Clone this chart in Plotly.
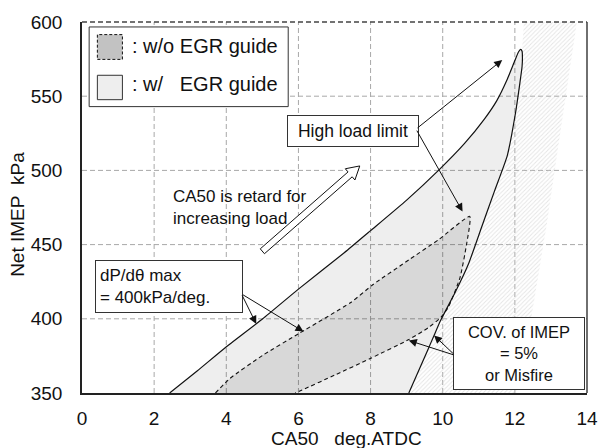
import numpy as np
import plotly.graph_objects as go

# ---- data -------------------------------------------------------------
# Operating region with EGR guide (solid outline): upper-left edge up to the tip,
# then back down along the right edge
with_egr_upper_x = [2.43, 3.2, 3.97, 5.01, 6.0, 7.27, 8.0, 9.0, 9.89, 10.6, 11.16, 11.5, 11.79, 12.0, 12.1, 12.16]
with_egr_upper_y = [350, 365, 380.5, 400, 420, 444.5, 459.4, 480, 500.2, 518, 534.7, 547, 561.4, 574, 579.8, 581.6]
with_egr_lower_x = [12.2, 12.21, 12.2, 12.14, 12.02, 11.79, 11.43, 11.07, 10.71, 10.35, 9.94, 9.76, 9.58, 9.06]
with_egr_lower_y = [580.3, 576, 570, 559, 539, 510, 485.7, 461.2, 436.7, 418, 398.8, 388.8, 378.7, 350]

# Operating region without EGR guide (dashed outline)
without_egr_upper_x = [3.70, 4.1, 5.01, 6.0, 7.45, 8.08, 9.08, 9.89, 10.75]
without_egr_upper_y = [350, 359.8, 375.4, 389.9, 411, 423.3, 440, 453.4, 469]
without_egr_lower_x = [10.66, 10.48, 10.16, 9.95, 9.6, 9.06, 7.99, 7.0, 6.1, 5.91]
without_egr_lower_y = [450, 427.8, 408, 401, 394, 386, 373.2, 362, 352, 350]

# Right-hand limit of the hatched band
hatch_right_x = [13.72, 13.25, 12.88, 12.45, 12.05]
hatch_right_y = [600, 524, 463, 400, 350]
hatch_top_left = (12.25, 600)

x_ticks = [0, 2, 4, 6, 8, 10, 12, 14]
y_ticks = [350, 400, 450, 500, 550, 600]
X_RANGE = (0, 14)
Y_RANGE = (350, 600)

# ---- layout constants ------------------------------------------------
W, H = 610, 448
M = dict(l=82, r=12, t=19, b=55)
PLOT_W = W - M["l"] - M["r"]
PLOT_H = H - M["t"] - M["b"]
FONT = "Liberation Sans, Arial, sans-serif"
BLACK = "#111111"
GRID = "#a8a8a8"


def paper_x(px):
    return (px - M["l"]) / PLOT_W


def paper_y(py):
    return (H - M["b"] - py) / PLOT_H


def hollow_arrow(x0, y0, x1, y1, shaft=6.5, head_w=15.0, head_len=13.0):
    """Outline of a block arrow, built in screen units and mapped back to data."""
    sx = PLOT_W / (X_RANGE[1] - X_RANGE[0])
    sy = PLOT_H / (Y_RANGE[1] - Y_RANGE[0])
    p0 = np.array([x0 * sx, y0 * sy])
    p1 = np.array([x1 * sx, y1 * sy])
    d = p1 - p0
    u = d / np.linalg.norm(d)
    n = np.array([-u[1], u[0]])
    b = p1 - u * head_len
    pts = [p0 + n * shaft / 2, b + n * shaft / 2, b + n * head_w / 2, p1,
           b - n * head_w / 2, b - n * shaft / 2, p0 - n * shaft / 2, p0 + n * shaft / 2]
    return [p[0] / sx for p in pts], [p[1] / sy for p in pts]


fig = go.Figure()

# hatched band right of the w/ EGR region
hx = list(reversed(with_egr_lower_x)) + [hatch_top_left[0]] + hatch_right_x
hy = list(reversed(with_egr_lower_y)) + [hatch_top_left[1]] + hatch_right_y
fig.add_trace(go.Scatter(
    x=hx, y=hy, mode="lines", fill="toself", line=dict(width=0),
    fillcolor="rgba(0,0,0,0)",
    fillpattern=dict(shape="/", fgcolor="#c9c9c9", bgcolor="rgba(0,0,0,0)", size=3, solidity=0.3),
    hoverinfo="skip", showlegend=False))

# w/ EGR guide region
fig.add_trace(go.Scatter(
    x=with_egr_upper_x + with_egr_lower_x, y=with_egr_upper_y + with_egr_lower_y,
    mode="lines", fill="toself", fillcolor="rgba(0,0,0,0.065)",
    line=dict(color=BLACK, width=1.2, shape="spline", smoothing=0.5),
    hoverinfo="skip", showlegend=False))

# w/o EGR guide region
fig.add_trace(go.Scatter(
    x=without_egr_upper_x + without_egr_lower_x, y=without_egr_upper_y + without_egr_lower_y,
    mode="lines", fill="toself", fillcolor="rgba(0,0,0,0.09)",
    line=dict(color=BLACK, width=1.1, dash="4px,3px", shape="spline", smoothing=0.5),
    hoverinfo="skip", showlegend=False))

# block arrow: CA50 retards with load
ax_, ay_ = hollow_arrow(5.0, 445.5, 7.70, 503)
fig.add_trace(go.Scatter(x=ax_, y=ay_, mode="lines", fill="toself", fillcolor="white",
                         line=dict(color=BLACK, width=1), hoverinfo="skip", showlegend=False))

annotations = []


def pointer(x0, y0, x1, y1):
    annotations.append(dict(
        x=x1, y=y1, ax=x0, ay=y0, xref="x", yref="y", axref="x", ayref="y",
        text="", showarrow=True, arrowhead=2, arrowsize=1.6, arrowwidth=1,
        arrowcolor=BLACK, standoff=0, startstandoff=0))


# High load limit
annotations.append(dict(
    x=7.52, y=526.6, xref="x", yref="y", text="High load limit", showarrow=False,
    font=dict(family=FONT, size=17.5, color=BLACK), bgcolor="white",
    bordercolor="#333333", borderwidth=1, borderpad=3, width=124, height=24))
pointer(9.26, 527.8, 11.65, 574.4)
pointer(9.26, 527.8, 10.55, 472.3)

# dP/dtheta max
annotations.append(dict(
    x=2.425, y=421.9, xref="x", yref="y",
    text="dP/d\u03b8 max<br>= 400kPa/deg.", showarrow=False, align="left",
    font=dict(family=FONT, size=17, color=BLACK), bgcolor="white",
    bordercolor="#333333", borderwidth=1, borderpad=4, width=138, height=43))
pointer(4.42, 416.8, 4.83, 396.6)
pointer(4.42, 416.8, 6.14, 391.4)

# COV of IMEP
annotations.append(dict(
    x=12.12, y=376.7, xref="x", yref="y",
    text="COV. of IMEP<br>= 5%<br>or Misfire", showarrow=False, align="center",
    font=dict(family=FONT, size=16.5, color=BLACK), bgcolor="white",
    bordercolor="#333333", borderwidth=1, borderpad=3, width=124, height=65))
pointer(10.34, 375.4, 9.06, 385.4)
pointer(10.34, 375.4, 9.76, 388.8)

# retard note
annotations.append(dict(
    x=2.47, y=475.3, xref="x", yref="y", xanchor="left", yanchor="middle",
    text="CA50 is retard for<br>increasing load", showarrow=False, align="left",
    font=dict(family=FONT, size=17, color=BLACK)))

# axis titles
annotations.append(dict(
    x=paper_x(352), y=paper_y(439), xref="paper", yref="paper",
    xanchor="center", yanchor="middle",
    text="CA50\u00a0\u00a0\u00a0deg.ATDC", showarrow=False,
    font=dict(family=FONT, size=19, color=BLACK)))
annotations.append(dict(
    x=paper_x(16), y=paper_y(213), xref="paper", yref="paper", textangle=-90,
    xanchor="center", yanchor="middle",
    text="Net IMEP\u00a0\u00a0kPa", showarrow=False,
    font=dict(family=FONT, size=19, color=BLACK)))

# legend entries
annotations.append(dict(
    x=paper_x(131), y=paper_y(43), xref="paper", yref="paper", xanchor="left", yanchor="middle",
    text=": w/o EGR guide", showarrow=False, font=dict(family=FONT, size=20, color=BLACK)))
annotations.append(dict(
    x=paper_x(131), y=paper_y(82), xref="paper", yref="paper", xanchor="left", yanchor="middle",
    text=": w/\u00a0\u00a0\u00a0EGR guide", showarrow=False, font=dict(family=FONT, size=20, color=BLACK)))

shapes = []
# dashed grid under the data
for v in x_ticks[1:-1]:
    shapes.append(dict(type="line", xref="x", yref="paper", x0=v, x1=v, y0=0, y1=1,
                       layer="below", line=dict(color=GRID, width=1, dash="5px,3px")))
for v in y_ticks[1:-1]:
    shapes.append(dict(type="line", xref="paper", yref="y", x0=0, x1=1, y0=v, y1=v,
                       layer="below", line=dict(color=GRID, width=1, dash="5px,3px")))
shapes += [
    # frame: right solid, top dashed
    dict(type="line", xref="paper", yref="paper", x0=1, x1=1, y0=0, y1=1,
         line=dict(color="#222222", width=1.3)),
    dict(type="line", xref="paper", yref="paper", x0=0, x1=1, y0=1, y1=1,
         line=dict(color="#444444", width=1.3, dash="5px,3px")),
    # legend box and swatches
    dict(type="rect", xref="paper", yref="paper", x0=paper_x(89.3), x1=paper_x(292.7),
         y0=paper_y(104.3), y1=paper_y(24), fillcolor="white", line=dict(color="#333333", width=1)),
    dict(type="rect", xref="paper", yref="paper", x0=paper_x(97.7), x1=paper_x(123.3),
         y0=paper_y(56.7), y1=paper_y(31.7), fillcolor="#c2c2c2",
         line=dict(color=BLACK, width=1, dash="3px,2px")),
    dict(type="rect", xref="paper", yref="paper", x0=paper_x(97.7), x1=paper_x(123.3),
         y0=paper_y(97.3), y1=paper_y(72.7), fillcolor="#eeeeee",
         line=dict(color="#333333", width=1)),
]

fig.update_layout(
    width=W, height=H, margin=dict(l=M["l"], r=M["r"], t=M["t"], b=M["b"], pad=0),
    paper_bgcolor="white", plot_bgcolor="white",
    font=dict(family=FONT, size=19, color=BLACK),
    showlegend=False, annotations=annotations, shapes=shapes,
    xaxis=dict(range=list(X_RANGE), tickvals=x_ticks, ticktext=[str(v) for v in x_ticks],
               showgrid=False, zeroline=False, showline=True, linecolor="#222222", linewidth=1.5,
               ticks="", ticklabelstandoff=7, tickfont=dict(size=19, color=BLACK)),
    yaxis=dict(range=list(Y_RANGE), tickvals=y_ticks, ticktext=[str(v) for v in y_ticks],
               showgrid=False, zeroline=False, showline=True, linecolor="#222222", linewidth=1.5,
               ticks="", ticklabelstandoff=14, tickfont=dict(size=19, color=BLACK)),
)

fig.write_html("out.html")
